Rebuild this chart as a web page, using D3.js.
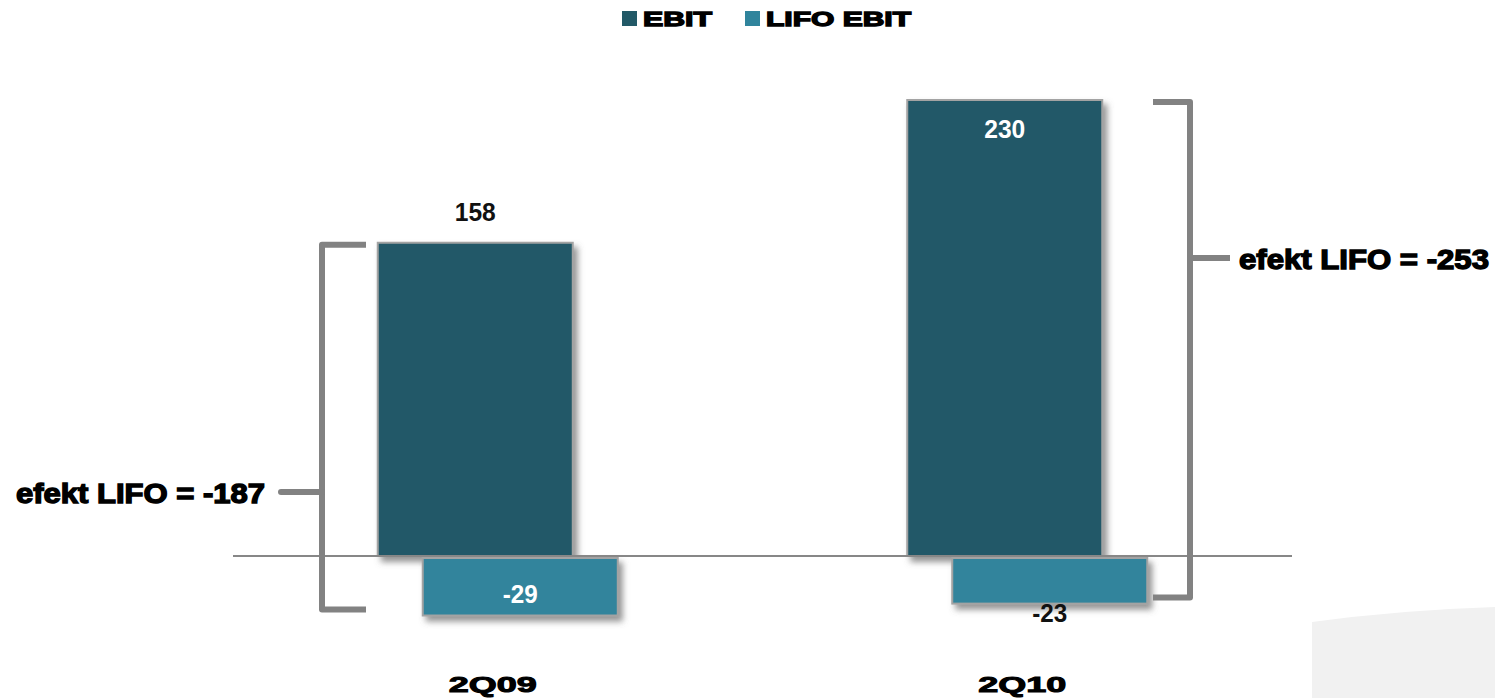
<!DOCTYPE html>
<html>
<head>
<meta charset="utf-8">
<script src="https://cdn.jsdelivr.net/npm/d3@7"></script>
<style>
  body { margin: 0; background: #fff; }
  svg { display: block; }
</style>
</head>
<body>
<div id="chart"></div>
<script>
'use strict';
// EBIT vs LIFO EBIT
const categories = ['2Q09', '2Q10'];
const series = ['EBIT', 'LIFO EBIT'];
const ebit = [158, 230];
const lifoEbit = [-29, -23];
const lifoEffect = [-187, -253];
const colors = ['#225967', '#30849c'];

const w = 1495, h = 698;

const svg = d3.select('#chart')
  .append('svg')
  .attr('width', w)
  .attr('height', h);

const defs = svg.append('defs');
const shadow = defs.append('filter')
  .attr('id', 'shadow')
  .attr('x', '-10%').attr('y', '-10%')
  .attr('width', '130%').attr('height', '140%');
shadow.append('feDropShadow')
  .attr('dx', 4).attr('dy', 5)
  .attr('stdDeviation', 3)
  .attr('flood-color', '#666')
  .attr('flood-opacity', 0.7);

// decoration in lower right corner
svg.append('path')
  .attr('d', 'M1312,622 Q1400,610 1495,607 L1495,698 L1312,698 Z')
  .attr('fill', '#f1f1f1');

const x = d3.scaleBand()
  .domain(categories)
  .range([233, 1292]);

const xs = d3.scalePoint()
  .domain(series)
  .range([-22.5, 22.5]);

const y = d3.scaleLinear()
  .domain([0, 230])
  .range([556, 100]);

const barW = 195;

const rows = [];
categories.forEach(function(c, i) {
  rows.push({ cat: c, s: series[0], v: ebit[i] });
  rows.push({ cat: c, s: series[1], v: lifoEbit[i] });
});

function cx(d) { return x(d.cat) + x.bandwidth() / 2 + xs(d.s); }

svg.selectAll('rect.bar')
  .data(rows)
  .enter().append('rect')
  .attr('class', 'bar')
  .attr('x', function(d) { return cx(d) - barW / 2; })
  .attr('y', function(d) { return d.v >= 0 ? y(d.v) : y(0) + 2; })
  .attr('width', barW)
  .attr('height', function(d) { return Math.abs(y(d.v) - y(0)); })
  .attr('fill', function(d) { return colors[series.indexOf(d.s)]; })
  .attr('stroke', '#a3a3a3')
  .attr('stroke-width', 2)
  .attr('filter', 'url(#shadow)');

// zero line
svg.append('line')
  .attr('x1', 233).attr('x2', 1292)
  .attr('y1', y(0)).attr('y2', y(0))
  .attr('stroke', '#878787')
  .attr('stroke-width', 2);

// value labels
const numFont = '"Liberation Sans", Arial, sans-serif';
const labelPos = [
  { dy: -22, fill: '#111' },   // 158 above
  { dy: -10, fill: '#fff' },   // -29 inside
  { dy: 38, fill: '#fff' },    // 230 inside
  { dy: 20, fill: '#111' }     // -23 below
];
svg.selectAll('text.val')
  .data(rows)
  .enter().append('text')
  .attr('class', 'val')
  .attr('x', cx)
  .attr('y', function(d, i) { return y(d.v) + labelPos[i].dy; })
  .attr('text-anchor', 'middle')
  .attr('font-family', numFont)
  .attr('font-weight', 'bold')
  .attr('font-size', 26)
  .attr('textLength', function(d) { return d.v < 0 ? 35 : 41; })
  .attr('lengthAdjust', 'spacingAndGlyphs')
  .attr('fill', function(d, i) { return labelPos[i].fill; })
  .text(function(d) { return d.v; });

// category labels
svg.selectAll('text.cat')
  .data(categories)
  .enter().append('text')
  .attr('class', 'cat')
  .attr('x', function(d) { return x(d) + x.bandwidth() / 2 - 5; })
  .attr('y', 692)
  .attr('text-anchor', 'middle')
  .attr('font-family', numFont)
  .attr('font-weight', 'bold')
  .attr('font-size', 22)
  .attr('stroke', '#000')
  .attr('stroke-width', 1)
  .attr('textLength', 88)
  .attr('lengthAdjust', 'spacingAndGlyphs')
  .text(function(d) { return d; });

// brackets
const bGray = '#828282';
function bracket(i) {
  const top = y(ebit[i]) + 2, bot = y(lifoEbit[i]) - 4;
  const mid = i === 0 ? 492 : 258;
  const g = svg.append('g')
    .attr('fill', 'none')
    .attr('stroke', bGray)
    .attr('stroke-width', 6)
    .attr('stroke-linejoin', 'round');
  let bx, end, tickEnd;
  if (i === 0) {
    bx = 322; end = 366; tickEnd = 281;
  } else {
    bx = 1190; end = 1153; tickEnd = 1230;
  }
  g.append('path')
    .attr('d', 'M' + end + ',' + top + ' L' + bx + ',' + top + ' L' + bx + ',' + bot + ' L' + end + ',' + bot);
  g.append('line')
    .attr('x1', bx).attr('x2', tickEnd)
    .attr('y1', mid).attr('y2', mid)
    .attr('stroke-linecap', i === 0 ? 'round' : 'butt');
  const t = svg.append('text')
    .attr('y', mid + 11)
    .attr('font-family', numFont)
    .attr('font-weight', 'bold')
    .attr('font-size', 28)
    .attr('stroke', '#000')
    .attr('stroke-width', 1.4)
    .attr('lengthAdjust', 'spacingAndGlyphs')
    .text('efekt LIFO = ' + lifoEffect[i]);
  if (i === 0) {
    t.attr('x', 265).attr('text-anchor', 'end').attr('textLength', 249);
  } else {
    t.attr('x', 1239).attr('textLength', 250);
  }
}
bracket(0);
bracket(1);

// legend
const legX = [622, 745];
const legTextW = [69, 145];
const leg = svg.selectAll('g.leg')
  .data(series)
  .enter().append('g')
  .attr('class', 'leg')
  .attr('transform', function(d, i) { return 'translate(' + legX[i] + ',11)'; });
leg.append('rect')
  .attr('width', 15).attr('height', 15)
  .attr('fill', function(d, i) { return colors[i]; });
leg.append('text')
  .attr('x', 21)
  .attr('y', 14.5)
  .attr('font-family', numFont)
  .attr('font-weight', 'bold')
  .attr('font-size', 20)
  .attr('stroke', '#000')
  .attr('stroke-width', 1.3)
  .attr('textLength', function(d, i) { return legTextW[i]; })
  .attr('lengthAdjust', 'spacingAndGlyphs')
  .text(function(d) { return d; });
</script>
</body>
</html>
